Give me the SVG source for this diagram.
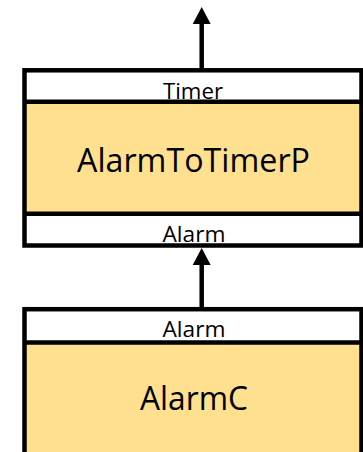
<svg xmlns="http://www.w3.org/2000/svg" width="363" height="452" viewBox="0 0 363 452">
<style>
.body{fill:#FEE08E}
.port{fill:#FFFFFF}
.edge{fill:none;stroke:#000;stroke-width:4.5}
.big{font-family:"Open Sans","Liberation Sans",sans-serif;font-size:32.8px;fill:#000;text-anchor:middle}
.small{font-family:"Open Sans","Liberation Sans",sans-serif;font-size:22.4px;fill:#000;text-anchor:middle}
.conn{stroke:#000;stroke-width:4.5;fill:none}
</style>
<defs>
<marker id="arrow" markerUnits="userSpaceOnUse" markerWidth="18" markerHeight="18" refX="0" refY="9" orient="auto" overflow="visible">
<path d="M0,0 L17,9 L0,18 Z" fill="#000"/>
</marker>
</defs>
<g id="AlarmToTimerP">
<rect class="port" x="24.5" y="70.3" width="337" height="31.4"/>
<rect class="body" x="24.5" y="101.7" width="337" height="112.1"/>
<rect class="port" x="24.5" y="213.8" width="337" height="31.7"/>
<text class="small" x="193" y="99" textLength="60" lengthAdjust="spacingAndGlyphs">Timer</text>
<text class="big" x="193.5" y="171.7" textLength="233" lengthAdjust="spacingAndGlyphs">AlarmToTimerP</text>
<text class="small" x="194" y="242" textLength="63" lengthAdjust="spacingAndGlyphs">Alarm</text>
<rect class="edge" x="24.5" y="70.3" width="337" height="175.2"/>
<line class="edge" x1="24.5" y1="101.7" x2="361.5" y2="101.7"/>
<line class="edge" x1="24.5" y1="213.8" x2="361.5" y2="213.8"/>
</g>
<g id="AlarmC">
<rect class="port" x="24.5" y="309.2" width="337" height="33.3"/>
<rect class="body" x="24.5" y="342.5" width="337" height="120"/>
<text class="small" x="194" y="337" textLength="63" lengthAdjust="spacingAndGlyphs">Alarm</text>
<text class="big" x="194" y="409.5" textLength="108" lengthAdjust="spacingAndGlyphs">AlarmC</text>
<rect class="edge" x="24.5" y="309.2" width="337" height="160"/>
<line class="edge" x1="24.5" y1="342.5" x2="361.5" y2="342.5"/>
</g>
<g id="connectors">
<line class="conn" x1="201.7" y1="68" x2="201.7" y2="24" marker-end="url(#arrow)"/>
<line class="conn" x1="201.7" y1="307" x2="201.7" y2="265" marker-end="url(#arrow)"/>
</g>
</svg>
